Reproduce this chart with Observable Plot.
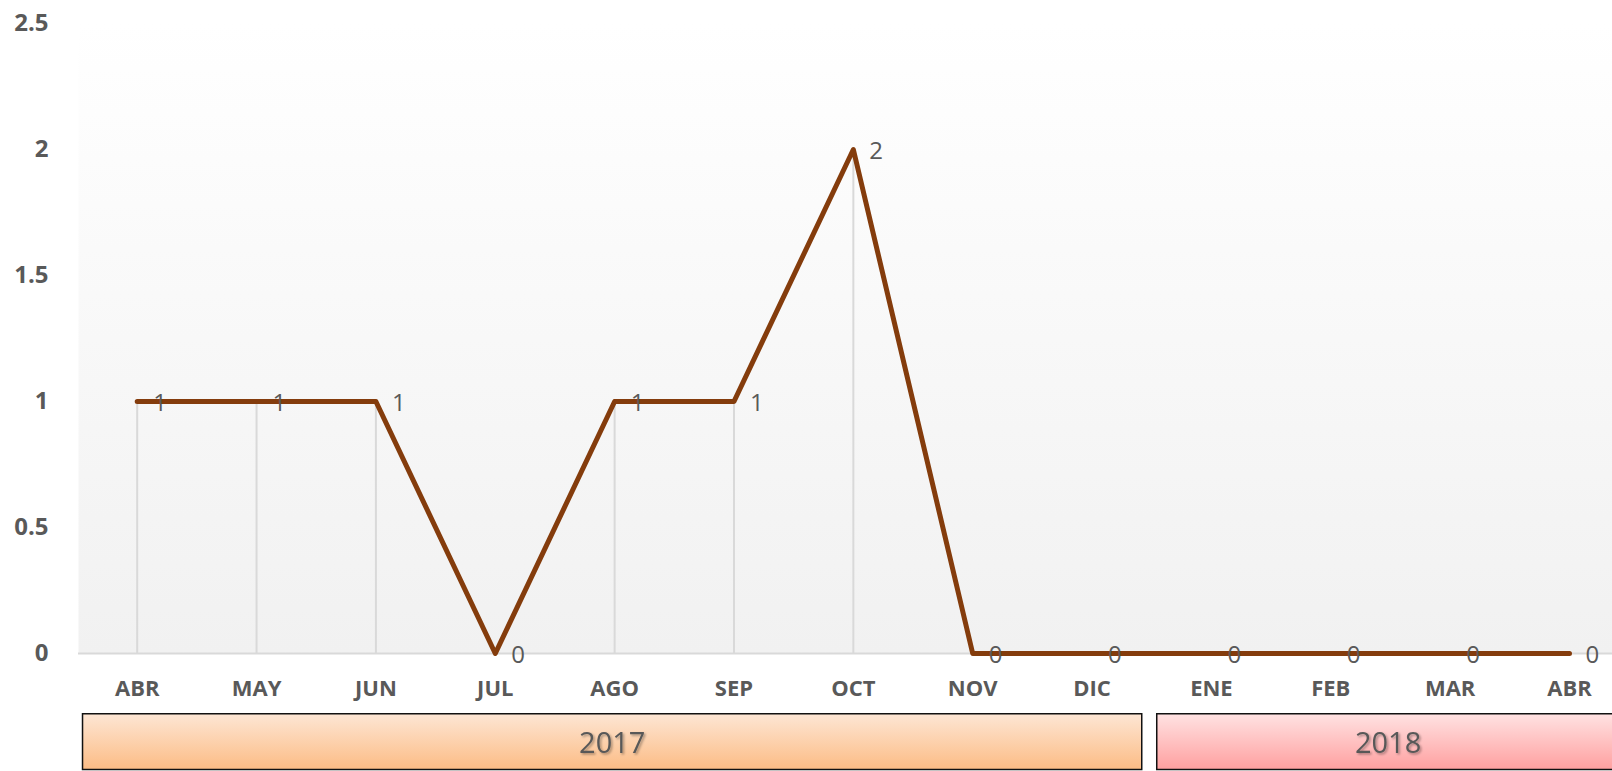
<!DOCTYPE html>
<html>
<head>
<meta charset="utf-8">
<script src="https://cdn.jsdelivr.net/npm/d3@7"></script>
<script src="https://cdn.jsdelivr.net/npm/@observablehq/plot@0.6"></script>
<style>
  html, body { margin: 0; padding: 0; background: #fff; overflow: hidden; }
  #chart svg { display: block; font-family: "Open Sans", sans-serif; }
</style>
</head>
<body>
<div id="chart"></div>
<script>
// ---- data ----
const months = ["ABR","MAY","JUN","JUL","AGO","SEP","OCT","NOV","DIC","ENE","FEB","MAR","ABR"];
const monthYears = ["2017","2017","2017","2017","2017","2017","2017","2017","2017","2018","2018","2018","2018"];
const values = [1, 1, 1, 0, 1, 1, 2, 0, 0, 0, 0, 0, 0];
const yTicks = [0, 0.5, 1, 1.5, 2, 2.5];
const yearColors = { "2017": "url(#g2017)", "2018": "url(#g2018)" };

const data = values.map((v, i) => ({ i, month: months[i], year: monthYears[i], v }));
const years = Array.from(d3.group(data, d => d.year), ([year, arr]) => ({
  year,
  start: d3.min(arr, d => d.i) - 0.5,
  end: d3.max(arr, d => d.i) + 0.5,
  fill: yearColors[year]
}));

const xScale = { type: "linear", domain: [0, 12], range: [136.7, 1569] };

const main = Plot.plot({
  width: 1612,
  height: 713,
  marginTop: 23,
  marginBottom: 60,
  marginLeft: 78,
  marginRight: 0,
  x: xScale,
  y: { domain: [0, 2.5] },
  marks: [
    Plot.frame({ fill: "url(#bgGrad)", stroke: "none" }),
    Plot.ruleY([0], { stroke: "#d9d9d9", strokeWidth: 2 }),
    Plot.ruleX(data, { x: "i", y1: 0, y2: "v", stroke: "#d9d9d9", strokeWidth: 2 }),
    Plot.line(data, { x: "i", y: "v", stroke: "#843c0c", strokeWidth: 5, strokeLinecap: "round", strokeLinejoin: "round" }),
    Plot.text(data, { x: "i", y: "v", text: d => String(d.v), textAnchor: "start", dx: 16, dy: 2, fontSize: 24, fill: "#595959" }),
    Plot.axisY({ ticks: yTicks, tickFormat: d => String(d), tickSize: 0, tickPadding: 30, fontSize: 24, fontWeight: "bold", fill: "#595959", label: null }),
    Plot.axisX({ ticks: d3.range(months.length), tickFormat: i => months[i], tickSize: 0, tickPadding: 27, fontSize: 22, fontWeight: "bold", fill: "#595959", label: null })
  ]
});

const yearPlot = Plot.plot({
  width: 1612,
  height: 58,
  marginTop: 0,
  marginBottom: 0,
  marginLeft: 0,
  marginRight: 0,
  x: { ...xScale, axis: null },
  color: { type: "identity" },
  marks: [
    Plot.rect(years, { x1: "start", x2: "end", fill: "fill", stroke: "#111", strokeWidth: 1.5, insetLeft: 5.5, insetRight: 9.5, insetTop: 0.75, insetBottom: 1.5 }),
    Plot.text(years, { x: d => (d.start + d.end) / 2 - 0.02, frameAnchor: "middle", text: "year", fontSize: 29, fill: "#595959", dy: 1 })
  ]
});

// gradients and shadow
d3.select(main).insert("defs", ":first-child").html(`
  <linearGradient id="bgGrad" x1="0" y1="0" x2="0" y2="1">
    <stop offset="0" stop-color="#ffffff"/>
    <stop offset="1" stop-color="#f1f1f1"/>
  </linearGradient>`);
d3.select(yearPlot).insert("defs", ":first-child").html(`
  <linearGradient id="g2017" x1="0" y1="0" x2="0" y2="1">
    <stop offset="0" stop-color="#fde6d4"/>
    <stop offset="1" stop-color="#fcbc85"/>
  </linearGradient>
  <linearGradient id="g2018" x1="0" y1="0" x2="0" y2="1">
    <stop offset="0" stop-color="#ffe2e2"/>
    <stop offset="1" stop-color="#ffa0a0"/>
  </linearGradient>
  <filter id="tshadow" x="-20%" y="-20%" width="140%" height="140%">
    <feDropShadow dx="1.5" dy="1.5" stdDeviation="1" flood-color="#000" flood-opacity="0.35"/>
  </filter>`);
d3.select(yearPlot).selectAll("g[aria-label=text] text").attr("filter", "url(#tshadow)");

document.getElementById("chart").append(main, yearPlot);
</script>
</body>
</html>
